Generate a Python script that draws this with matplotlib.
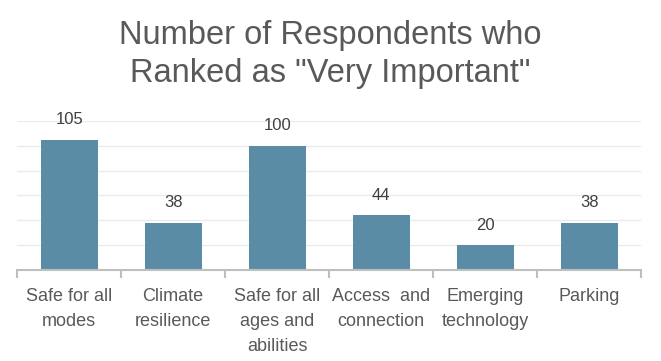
import matplotlib
matplotlib.use("Agg")
import matplotlib.pyplot as plt
import numpy as np

categories = ["Safe for all\nmodes", "Climate\nresilience", "Safe for all\nages and\nabilities",
              "Access  and\nconnection", "Emerging\ntechnology", "Parking"]
values = [105, 38, 100, 44, 20, 38]
title = 'Number of Respondents who\nRanked as "Very Important"'

plt.rcParams['font.family'] = ['Liberation Sans', 'DejaVu Sans']

fig = plt.figure(figsize=(6.61, 3.61), dpi=100)
ax = fig.add_axes([0.026, 0.252, 0.944, 0.413])

x = np.arange(len(categories))
bars = ax.bar(x, values, width=0.55, color="#5A8CA6", zorder=3)

ax.set_xlim(-0.5, len(categories) - 0.5)
ax.set_ylim(0, 120)
ax.set_yticks(np.arange(20, 121, 20))
ax.yaxis.grid(True, color="#EBEBEB", linewidth=1.0, zorder=0)
ax.tick_params(axis='y', left=False, labelleft=False)

for s in ['top', 'right', 'left']:
    ax.spines[s].set_visible(False)
ax.spines['bottom'].set_color("#BFBFBF")
ax.spines['bottom'].set_linewidth(1.5)
ax.spines['bottom'].set_zorder(4)

ax.set_xticks(x)
ax.set_xticklabels(categories, fontsize=13, color="#595959", linespacing=1.6)
ax.tick_params(axis='x', which='major', length=0, pad=13)
ax.set_xticks(np.arange(-0.5, len(categories), 1), minor=True)
ax.tick_params(axis='x', which='minor', length=6, width=1.5, color="#BFBFBF", direction='out')

for b, v in zip(bars, values):
    ax.annotate(str(v), (b.get_x() + b.get_width() / 2, v), xytext=(0, 9),
                textcoords='offset points', ha='center', va='bottom',
                fontsize=12, color="#404040")

fig.text(0.5, 0.85, title, ha='center', va='center', fontsize=23.5, color="#595959",
         linespacing=1.3)

fig.savefig("out.png", dpi=100)
